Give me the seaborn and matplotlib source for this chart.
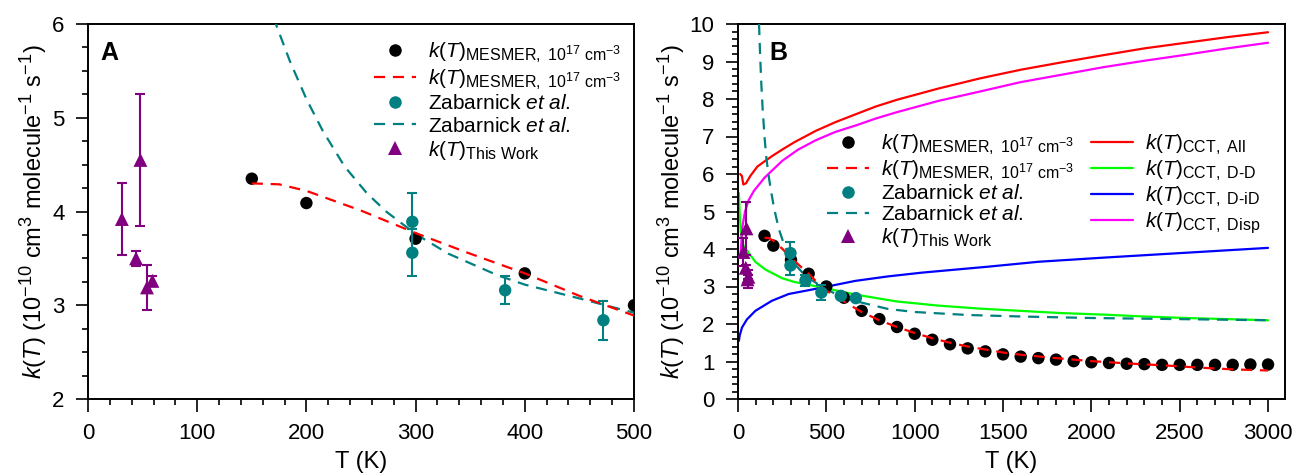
import numpy as np
import pandas as pd
import matplotlib
matplotlib.use("Agg")
import matplotlib.pyplot as plt
from matplotlib.lines import Line2D
from matplotlib.ticker import MultipleLocator
import seaborn as sns

try:
    import matplotlib._mathtext as _mt
    _mt.SHRINK_FACTOR = 0.77
except Exception:
    pass

# ---------------- data ----------------
# MESMER k(T) points (10^17 cm^-3)
mes_T = [150, 200, 300, 400, 500, 600, 700, 800, 900, 1000, 1100, 1200, 1300, 1400, 1500,
         1600, 1700, 1800, 1900, 2000, 2100, 2200, 2300, 2400, 2500, 2600, 2700, 2800, 2900, 3000]
mes_k = [4.35, 4.09, 3.71, 3.34, 3.00, 2.70, 2.35, 2.13, 1.92, 1.74, 1.58, 1.46, 1.35, 1.27, 1.19,
         1.13, 1.09, 1.05, 1.01, 0.98, 0.96, 0.94, 0.93, 0.91, 0.91, 0.91, 0.91, 0.91, 0.92, 0.92]
# MESMER fit (dashed red)
mesfit_T = [150, 175, 200, 250, 300, 350, 400, 450, 500, 600, 700, 800, 900, 1000, 1100, 1200,
            1300, 1400, 1500, 1600, 1800, 2000, 2200, 2400, 2600, 2800, 3000]
mesfit_k = [4.30, 4.29, 4.22, 4.01, 3.77, 3.55, 3.34, 3.10, 2.89, 2.60, 2.32, 2.10, 1.92, 1.76, 1.62, 1.50,
            1.40, 1.32, 1.24, 1.18, 1.09, 1.01, 0.95, 0.90, 0.84, 0.79, 0.76]
# Zabarnick et al. measurements
zab_T = [297, 297, 382, 472, 582, 667]
zab_k = [3.89, 3.56, 3.16, 2.84, 2.75, 2.69]
zab_err = [0.31, 0.25, 0.15, 0.21, 0.0, 0.0]
# Zabarnick et al. fit (dashed teal)
zabfit_T = [119, 125, 132, 140, 150, 160, 172, 185, 200, 215, 235, 255, 273, 300, 330, 375, 400, 451,
            500, 600, 700, 850, 1000, 1300, 1600, 2000, 2500, 3000]
zabfit_k = [10.0, 9.2, 8.4, 7.7, 7.0, 6.45, 6.0, 5.6, 5.2, 4.86, 4.48, 4.2, 4.0, 3.76, 3.55, 3.32, 3.22, 3.07,
            2.92, 2.70, 2.57, 2.40, 2.32, 2.24, 2.20, 2.16, 2.13, 2.10]
# This work
tw_T = [31, 44, 48, 54, 59]
tw_k = [3.92, 3.50, 4.55, 3.19, 3.26]
tw_err = [0.38, 0.08, 0.70, 0.24, 0.05]
# CCT curves
all_T = [12, 22, 30, 45, 70, 110, 160, 200, 260, 320, 380, 440, 550, 670, 780, 900, 1135, 1370, 1600,
         1835, 2070, 2300, 2535, 2770, 3000]
all_k = [6.00, 5.95, 5.72, 5.75, 5.95, 6.20, 6.37, 6.50, 6.68, 6.85, 7.00, 7.15, 7.38, 7.60, 7.80, 7.98,
         8.28, 8.55, 8.78, 8.98, 9.17, 9.35, 9.50, 9.65, 9.78]
dd_T = [5, 10, 16, 30, 63, 100, 156, 250, 320, 480, 670, 900, 1135, 1370, 1600, 1835, 2070, 2300, 2535, 2770, 3000]
dd_k = [5.50, 4.90, 4.45, 4.10, 3.88, 3.65, 3.45, 3.22, 3.12, 2.97, 2.78, 2.60, 2.49, 2.41, 2.35, 2.29, 2.25, 2.20, 2.16, 2.13, 2.10]
did_T = [5, 10, 23, 50, 98, 192, 287, 475, 664, 850, 1042, 1230, 1419, 1702, 2070, 2535, 3000]
did_k = [1.55, 1.70, 1.91, 2.12, 2.35, 2.62, 2.80, 2.97, 3.15, 3.27, 3.37, 3.45, 3.53, 3.66, 3.77, 3.90, 4.03]
disp_T = [15, 25, 40, 60, 90, 150, 250, 340, 440, 550, 670, 780, 900, 1135, 1370, 1600, 1835, 2070, 2300,
          2535, 2770, 3000]
disp_k = [3.90, 4.60, 5.00, 5.30, 5.55, 5.90, 6.35, 6.65, 6.90, 7.12, 7.30, 7.48, 7.65, 7.95, 8.20, 8.45,
          8.65, 8.85, 9.02, 9.18, 9.35, 9.50]

# ---------------- style ----------------
sns.set_style("ticks")
plt.rcParams["font.family"] = ["Liberation Sans", "DejaVu Sans"]
plt.rcParams.update({
    "mathtext.fontset": "custom",
    "mathtext.rm": "Liberation Sans",
    "mathtext.it": "Liberation Sans:italic",
    "mathtext.bf": "Liberation Sans:bold",
    "mathtext.sf": "Liberation Sans",
    "axes.linewidth": 1.4,
    "axes.edgecolor": "black",
    "text.color": "black",
    "axes.labelcolor": "black",
    "xtick.color": "black",
    "ytick.color": "black",
})

RED = "#ff0000"
TEAL = "#008080"
PURPLE = "#800080"
GREEN = "#00ff00"
BLUE = "#0000ff"
MAGENTA = "#ff00ff"
DASH = (0, (5, 3.5))

lab_mes = r"$k(T)_{\mathrm{MESMER,\ 10^{17}\ cm^{-3}}}$"
lab_zab = r"Zabarnick $\mathit{et\ al.}$"
lab_tw = r"$k(T)_{\mathrm{This\ Work}}$"
lab_all = r"$k(T)_{\mathrm{CCT,\ All}}$"
lab_dd = r"$k(T)_{\mathrm{CCT,\ D\text{-}D}}$"
lab_did = r"$k(T)_{\mathrm{CCT,\ D\text{-}iD}}$"
lab_disp = r"$k(T)_{\mathrm{CCT,\ Disp}}$"
ylab = r"$k(T)$ (10$^{-10}$ cm$^{3}$ molecule$^{-1}$ s$^{-1}$)"

fig = plt.figure(figsize=(12.96, 4.74), dpi=100)
axA = fig.add_axes([88 / 1296, 1 - 399 / 474, 546 / 1296, 375 / 474])
axB = fig.add_axes([738 / 1296, 1 - 399 / 474, 547 / 1296, 375 / 474])

MS_DOT = 80
MS_TRI = 100


def draw_common(ax, with_cct):
    if with_cct:
        sns.lineplot(x=all_T, y=all_k, ax=ax, color=RED, lw=1.6, zorder=2)
        sns.lineplot(x=dd_T, y=dd_k, ax=ax, color=GREEN, lw=1.6, zorder=2)
        sns.lineplot(x=did_T, y=did_k, ax=ax, color=BLUE, lw=1.6, zorder=2)
        sns.lineplot(x=disp_T, y=disp_k, ax=ax, color=MAGENTA, lw=1.6, zorder=2)
    sns.lineplot(x=zabfit_T, y=zabfit_k, ax=ax, color=TEAL, lw=1.6, linestyle=DASH, zorder=3)
    sns.scatterplot(x=mes_T, y=mes_k, ax=ax, color="black", s=MS_DOT, edgecolor="none", zorder=4,
                    clip_on=True)
    sns.lineplot(x=mesfit_T, y=mesfit_k, ax=ax, color=RED, lw=1.6, linestyle=DASH, zorder=5)
    ax.errorbar(zab_T, zab_k, yerr=zab_err, fmt="none", ecolor=TEAL, elinewidth=1.5,
                capsize=3.5, capthick=1.5, zorder=5)
    sns.scatterplot(x=zab_T, y=zab_k, ax=ax, color=TEAL, s=MS_DOT, edgecolor="none", zorder=6,
                    clip_on=True)
    ax.errorbar(tw_T, tw_k, yerr=tw_err, fmt="none", ecolor=PURPLE, elinewidth=1.5,
                capsize=3.5, capthick=1.5, zorder=6)
    sns.scatterplot(x=tw_T, y=tw_k, ax=ax, color=PURPLE, marker="^", s=MS_TRI, edgecolor="none", zorder=7,
                    clip_on=True)


draw_common(axA, False)
draw_common(axB, True)

for ax in (axA, axB):
    for side in ("top", "right"):
        ax.spines[side].set_visible(True)
    ax.tick_params(which="major", direction="out", length=9, width=1.2, labelsize=16, pad=8,
                   colors="black", top=False, right=False)
    ax.tick_params(which="minor", direction="out", length=4.5, width=1.2, top=False, right=False)
    ax.set_xlabel("T (K)", fontsize=17, labelpad=5)
    ax.set_ylabel(ylab, fontsize=17, labelpad=2)
    ax.grid(False)

axA.set_xlim(0, 500)
axA.set_ylim(2, 6)
axA.xaxis.set_major_locator(MultipleLocator(100))
axA.xaxis.set_minor_locator(MultipleLocator(20))
axA.yaxis.set_major_locator(MultipleLocator(1))
axA.yaxis.set_minor_locator(MultipleLocator(0.25))

axB.set_xlim(0, 3096)
axB.set_ylim(0, 10)
axB.xaxis.set_major_locator(MultipleLocator(500))
axB.xaxis.set_minor_locator(MultipleLocator(100))
axB.yaxis.set_major_locator(MultipleLocator(1))
axB.yaxis.set_minor_locator(MultipleLocator(0.2))

axA.text(0.022, 0.955, "A", transform=axA.transAxes, fontsize=18, fontweight="bold", va="top", ha="left")
axB.text(0.058, 0.955, "B", transform=axB.transAxes, fontsize=18, fontweight="bold", va="top", ha="left")


def h_dot(c):
    return Line2D([], [], color=c, marker="o", ls="none", markersize=9, markeredgewidth=0)


def h_tri():
    return Line2D([], [], color=PURPLE, marker="^", ls="none", markersize=10, markeredgewidth=0)


def h_line(c, ls="-"):
    return Line2D([], [], color=c, lw=1.6, ls=ls)


common_h = [h_dot("black"), h_line(RED, DASH), h_dot(TEAL), h_line(TEAL, DASH), h_tri()]
common_l = [lab_mes, lab_mes, lab_zab, lab_zab, lab_tw]

legA = axA.legend(common_h, common_l, loc="upper right", bbox_to_anchor=(1.0, 0.99),
                  frameon=False, fontsize=15, handlelength=2.0, handletextpad=0.6,
                  labelspacing=0.15, borderaxespad=0.2)

cct_h = [h_line(RED), h_line(GREEN), h_line(BLUE), h_line(MAGENTA)]
cct_l = [lab_all, lab_dd, lab_did, lab_disp]
legB = axB.legend(common_h + cct_h, common_l + cct_l, loc="upper left", bbox_to_anchor=(0.14, 0.745),
                  ncol=2, frameon=False, fontsize=15, handlelength=2.0, handletextpad=0.6,
                  labelspacing=0.1, columnspacing=0.8, borderaxespad=0.2)

fig.savefig("out.png", dpi=100, facecolor="white")
